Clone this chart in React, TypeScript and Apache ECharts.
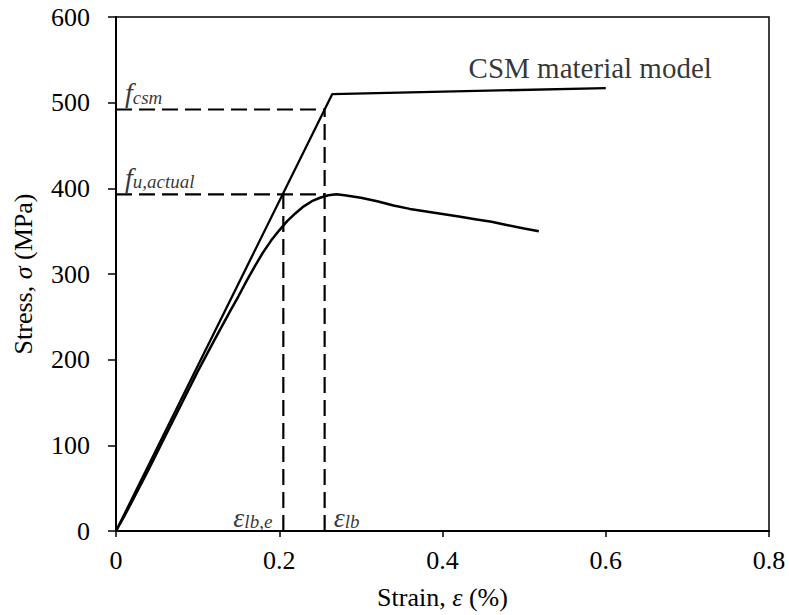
import React, { useEffect, useRef } from 'react';
import * as echarts from 'echarts';

// Axis ticks
const xTickStep = 0.2;
const xMax = 0.8;
const yTickStep = 100;
const yMax = 600;

// CSM material model (bilinear)
const csmStrain = [0, 0.265, 0.6];
const csmStress = [0, 510, 517];

// Measured stress-strain curve
const testStrain = [0, 0.01, 0.02, 0.04, 0.06, 0.08, 0.1, 0.12, 0.14, 0.15, 0.16, 0.17, 0.18, 0.19, 0.2, 0.21, 0.22, 0.23, 0.24, 0.25, 0.26, 0.27, 0.28, 0.3, 0.32, 0.34, 0.36, 0.38, 0.4, 0.42, 0.44, 0.46, 0.48, 0.5, 0.518];
const testStress = [0, 17, 35, 72, 110, 148, 186, 222, 257, 274, 292, 309, 325, 339, 351, 362, 371, 379, 385, 389, 392, 393, 392, 389, 385, 380, 376, 373, 370, 367, 364, 361, 357, 353, 350];

// Key values
const fCsm = 492;
const fUActual = 393;
const epsLb = 0.2556;
const epsLbE = 0.205;

// Model label anchor
const modelLabelAt = [0.581, 540];

const FONT = "'Liberation Serif', 'Times New Roman', serif";
const DASH = [16, 7];

export default function App() {
  const ref = useRef<HTMLDivElement>(null);
  useEffect(() => {
    if (!ref.current) return;
    const chart = echarts.init(ref.current, undefined, { renderer: 'svg' });
    const base = { fontFamily: FONT, color: '#000' };
    const bigSize = 28;
    const subSize = 19;
    const richLabel = {
      f: { ...base, fontSize: bigSize, fontStyle: 'italic', lineHeight: 32, verticalAlign: 'bottom' },
      s: { ...base, fontSize: subSize, fontStyle: 'italic', lineHeight: 24, verticalAlign: 'bottom' },
      n: { ...base, fontSize: 29, lineHeight: 32 },
    };
    const labelSeries = (point: number[], text: string, label: any) => ({
      type: 'scatter',
      data: [point],
      symbolSize: 0,
      silent: true,
      label: { show: true, formatter: text, rich: richLabel, ...label },
      z: 5,
    });
    const dashed = (pts: number[][]) => ({
      type: 'line',
      data: pts,
      symbol: 'none',
      lineStyle: { color: '#000', width: 2.2, type: DASH },
      silent: true,
    });
    chart.setOption({
      animation: false,
      grid: {
        left: 116, right: 20, top: 17, bottom: 84,
        outerBoundsMode: 'none', containLabel: false,
        show: true, borderColor: '#000', borderWidth: 1.5, backgroundColor: 'transparent',
      },
      xAxis: {
        type: 'value', min: 0, max: xMax, interval: xTickStep,
        axisLine: { show: true, onZero: false, lineStyle: { color: '#000', width: 2 } },
        axisTick: { show: true, inside: false, length: 6, lineStyle: { color: '#000', width: 1.5 } },
        splitLine: { show: false },
        axisLabel: { color: '#000', fontFamily: FONT, fontSize: 26, margin: 16, formatter: (v: number) => (v === 0 ? '0' : v.toFixed(1)) },
        name: 'Strain, {i|ε} (%)',
        nameLocation: 'middle', nameGap: 53, nameMoveOverlap: false,
        nameTextStyle: { color: '#000', fontFamily: FONT, fontSize: 26, rich: { i: { fontFamily: FONT, fontSize: 26, fontStyle: 'italic', color: '#000' } } },
      },
      yAxis: {
        type: 'value', min: 0, max: yMax, interval: yTickStep,
        axisLine: { show: true, onZero: false, lineStyle: { color: '#000', width: 2 } },
        axisTick: { show: true, inside: false, length: 8, lineStyle: { color: '#000', width: 1.5 } },
        splitLine: { show: false },
        axisLabel: { color: '#000', fontFamily: FONT, fontSize: 26, margin: 26 },
        name: 'Stress, {i|σ} (MPa)',
        nameLocation: 'middle', nameGap: 80, nameRotate: 90, nameMoveOverlap: false,
        nameTextStyle: { color: '#000', fontFamily: FONT, fontSize: 26, rich: { i: { fontFamily: FONT, fontSize: 26, fontStyle: 'italic', color: '#000' } } },
      },
      series: [
        {
          type: 'line', name: 'CSM', data: csmStrain.map((x, i) => [x, csmStress[i]]),
          symbol: 'none', lineStyle: { color: '#000', width: 2.3 }, silent: true,
        },
        {
          type: 'line', name: 'Test', data: testStrain.map((x, i) => [x, testStress[i]]),
          symbol: 'none', lineStyle: { color: '#000', width: 2.5 }, silent: true,
        },
        dashed([[0, fCsm], [epsLb, fCsm]]),
        dashed([[epsLb, 0], [epsLb, fCsm]]),
        dashed([[0, fUActual], [epsLb, fUActual]]),
        dashed([[epsLbE, 0], [epsLbE, fUActual]]),
        labelSeries([0, fCsm], '{f|f}{s|csm}', { position: 'right', align: 'left', verticalAlign: 'bottom', offset: [4, -3] }),
        labelSeries([0, fUActual], '{f|f}{s|u,actual}', { position: 'right', align: 'left', verticalAlign: 'bottom', offset: [4, -3] }),
        labelSeries([epsLbE, 0], '{f|ε}{s|lb,e}', { position: 'left', align: 'right', verticalAlign: 'bottom', offset: [-6, 0] }),
        labelSeries([epsLb, 0], '{f|ε}{s|lb}', { position: 'right', align: 'left', verticalAlign: 'bottom', offset: [4, 0] }),
        labelSeries(modelLabelAt, '{n|CSM material model}', { position: 'inside', align: 'center', verticalAlign: 'middle' }),
      ],
    });
    return () => chart.dispose();
  }, []);
  return <div ref={ref} style={{ position: 'absolute', left: 0, top: 0, width: 789, height: 615 }} />;
}
